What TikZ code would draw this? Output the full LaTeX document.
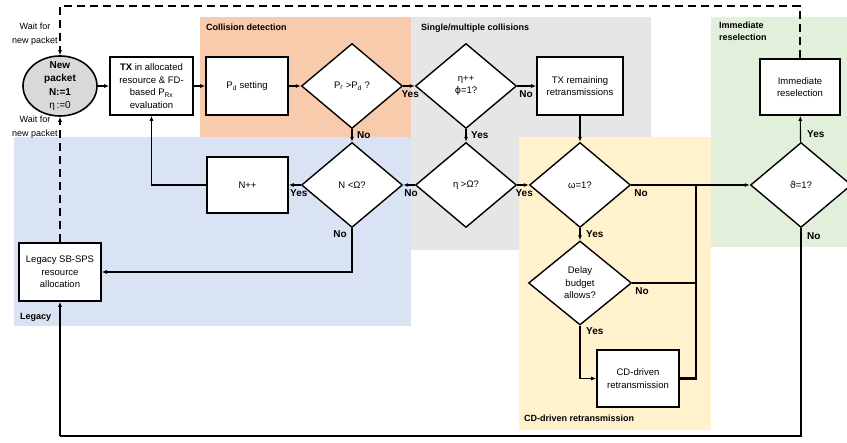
\documentclass[tikz,border=0pt]{standalone}
\usepackage{fontspec}
\setmainfont{Liberation Sans}
\newfontfamily\grkfont{DejaVu Sans}
\usetikzlibrary{shapes.geometric,arrows.meta}
\definecolor{cdorange}{HTML}{F8CBAD}
\definecolor{cdgrey}{HTML}{E7E6E6}
\definecolor{cdblue}{HTML}{DAE3F3}
\definecolor{cdyellow}{HTML}{FFF2CC}
\definecolor{cdgreen}{HTML}{E2EFDA}
\definecolor{pktgrey}{HTML}{D9D9D9}
\begin{document}
\begin{tikzpicture}[x=1pt,y=-1pt,
  box/.style={rectangle,draw=black,line width=1.6pt,fill=white,minimum width=82pt,minimum height=58pt,align=center,inner sep=1pt,font=\fontsize{9.5}{12.5}\selectfont},
  test/.style={diamond,draw=black,line width=1.4pt,fill=white,minimum width=101pt,minimum height=85pt,inner sep=0pt,align=center,font=\fontsize{9.5}{12.5}\selectfont},
  arr/.style={line width=1.1pt,-{Latex[length=5pt,width=4pt]}},
  heavy/.style={line width=2.4pt},
  lbl/.style={font=\fontsize{10}{12}\selectfont\bfseries,inner sep=1pt},
  area/.style={font=\fontsize{9}{11.5}\selectfont\bfseries,inner sep=0pt,align=left},
  wait/.style={font=\fontsize{9}{14}\selectfont,align=center,inner sep=0pt}]

\clip (0,0) rectangle (847,443);

\fill[cdorange] (200,17) rectangle (411,137);
\fill[cdgrey] (411,17) rectangle (651,250);
\fill[cdblue] (14,137) rectangle (411,326);
\fill[cdyellow] (519,137) rectangle (711,430);
\fill[cdgreen] (711,17) rectangle (847,247);

\node[area,anchor=west] (tcd) at (206,27) {Collision detection};
\node[area,anchor=west] (tsm) at (421,28) {Single/multiple collisions};
\node[area,anchor=north west] (tir) at (719,22) {Immediate\\reselection};
\node[area,anchor=west] (tlg) at (20,317) {Legacy};
\node[area,anchor=west] (tcr) at (524,418) {CD-driven retransmission};

\node[ellipse,draw=black,line width=1.6pt,fill=pktgrey,minimum width=74pt,minimum height=60pt,
  label={[align=center,font=\fontsize{10}{13.5}\selectfont]center:{\textbf{New}\\\textbf{packet}\\\textbf{N:=1}\\η\,:=0}}] (pkt) at (60,86) {};
\node[box,minimum width=83pt] (tx) at (151.5,86) {\textbf{TX} in allocated\\resource \& FD-\\based P\textsubscript{Rx}\\evaluation};
\node[box] (pd) at (247,86) {P\textsubscript{d} setting};
\node[test] (cpr) at (352,86) {P\textsubscript{r} >P\textsubscript{d} ?};
\node[test] (ceta) at (466,86) {η++\\{\grkfont ϕ}=1?};
\node[box,minimum width=86pt] (rem) at (580,86) {TX remaining\\retransmissions};
\node[box,minimum width=80pt,minimum height=56pt] (res) at (800,87) {Immediate\\reselection};

\node[box,minimum width=81pt,minimum height=56pt] (npp) at (247.5,185) {N++};
\node[test] (cn) at (352,185) {N <Ω?};
\node[test] (cetaom) at (466,185) {η >Ω?};
\node[test] (com) at (580,185) {ω=1?};
\node[test] (cth) at (801,185) {{\grkfont ϑ}=1?};
\node[test,minimum width=103pt,minimum height=84pt] (cdel) at (580,283) {Delay\\budget\\allows?};

\node[box,minimum height=57pt] (cdr) at (638,378.5) {CD-driven\\retransmission};
\node[box] (leg) at (60,272) {Legacy SB-SPS\\resource\\allocation};

\node[wait] (w1) at (35,34) {Wait for\\new packet};
\node[wait] (w2) at (35,127) {Wait for\\new packet};

\coordinate (dtop) at (800,6);
\coordinate (dleft) at (60,6);
\coordinate (jtop) at (696,185);
\coordinate (jbot) at (696,378.5);
\coordinate (lbr) at (801,436);
\coordinate (lbl) at (60,436);

\draw[arr] (pkt) -- (tx);
\draw[arr] (tx) -- (pd);
\draw[arr] (pd) -- (cpr);
\draw[arr] (cpr) -- (ceta);
\draw[arr] (cpr) -- (cn);
\draw[arr] (ceta) -- (rem);
\draw[arr] (ceta) -- (cetaom);
\draw[arr] (rem) -- (com);
\draw[arr] (cetaom) -- (cn);
\draw[arr] (cetaom) -- (com);
\draw[arr] (cn) -- (npp);
\draw[arr] (npp.west) -| (tx.south);
\draw[arr,line width=1.5pt] (cn.south) |- (leg.east);
\draw[arr] (com.east) -- (cth.west);
\draw[arr] (com) -- (cdel);
\draw[heavy] (cdel.east) -- (cdel.east -| jtop);
\draw[heavy] (cdr.east) -- (jbot) -- (jtop);
\draw[arr,line width=1.6pt] (cdel.south) |- (cdr.west);
\draw[arr] (cth) -- (res);
\draw[heavy] (cth.south) -- (lbr) -- (lbl);
\draw[arr] (lbl) -- (leg.south);
\draw[arr,dashed,dash pattern=on 8pt off 5pt] (res.north) -- (dtop) -- (dleft) -- (pkt.north);
\draw[arr,dashed,dash pattern=on 8pt off 5pt] (leg.north) -- (pkt.south);

\node[lbl,anchor=north] at ([xshift=7pt,yshift=-3pt]cpr.east) {Yes};
\node[lbl,anchor=north west] at ([xshift=4pt,yshift=-1pt]cpr.south) {No};
\node[lbl,anchor=north west] at ([xshift=1pt,yshift=-3pt]ceta.east) {No};
\node[lbl,anchor=north west] at ([xshift=4pt,yshift=-1pt]ceta.south) {Yes};
\node[lbl,anchor=north west] at ([yshift=-3pt]cn.east) {No};
\node[lbl,anchor=north] at ([xshift=-2pt,yshift=-3pt]cn.west) {Yes};
\node[lbl,anchor=north east] at ([xshift=-4pt,yshift=-1pt]cn.south) {No};
\node[lbl,anchor=north] at ([xshift=7pt,yshift=-3pt]cetaom.east) {Yes};
\node[lbl,anchor=north west] at ([xshift=2pt,yshift=-3pt]com.east) {No};
\node[lbl,anchor=north west] at ([xshift=5pt,yshift=-1pt]com.south) {Yes};
\node[lbl,anchor=north west] at ([xshift=2pt,yshift=-3pt]cdel.east) {No};
\node[lbl,anchor=north west] at ([xshift=5pt,yshift=-1pt]cdel.south) {Yes};
\node[lbl,anchor=south west] at ([xshift=5pt,yshift=3pt]cth.north) {Yes};
\node[lbl,anchor=north west] at ([xshift=5pt,yshift=-3pt]cth.south) {No};

\end{tikzpicture}
\end{document}
